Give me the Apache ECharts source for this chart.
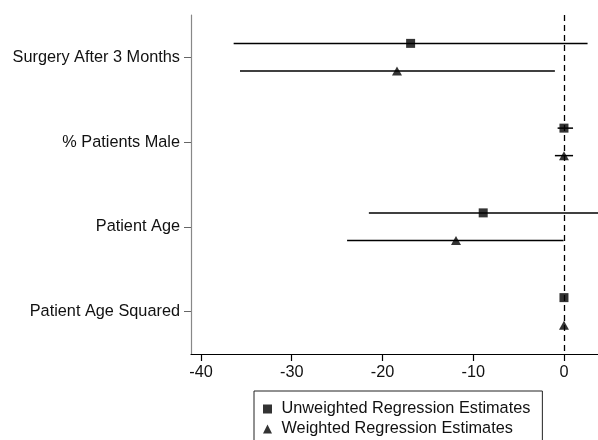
<!DOCTYPE html>
<html>
<head>
<meta charset="utf-8">
<script src="https://cdn.jsdelivr.net/npm/echarts@6/dist/echarts.min.js"></script>
<style>html,body{margin:0;padding:0;background:#fff;}#c{width:598px;height:440px;}</style>
</head>
<body>
<div id="c"></div>
<script>
const categories = ['Surgery After 3 Months', '% Patients Male', 'Patient Age', 'Patient Age Squared'];
const unweightedEst = [-16.9, 0.0, -8.9, 0.0];
const unweightedLo = [-36.4, -0.7, -21.5, 0.0];
const unweightedHi = [2.6, 1.0, 5.0, 0.0];
const weightedEst = [-18.4, 0.0, -11.9, 0.0];
const weightedLo = [-35.7, -1.0, -23.9, 0.0];
const weightedHi = [-1.0, 1.0, -0.05, 0.0];
const xTicks = [-40, -30, -20, -10, 0];

const FONT = '"Liberation Sans", Arial, sans-serif';
const FS = 16.3;
const chart = echarts.init(document.getElementById('c'));

function ciSeries(lo, hi, offset, name) {
  return {
    type: 'custom',
    name: name,
    z: 1,
    silent: true,
    encode: { x: [0, 1], y: 2 },
    data: lo.map((l, i) => [l, hi[i], i]),
    renderItem: function (params, api) {
      const p1 = api.coord([api.value(0), api.value(2)]);
      const p2 = api.coord([api.value(1), api.value(2)]);
      return {
        type: 'line',
        shape: { x1: p1[0], y1: p1[1] + offset, x2: p2[0], y2: p2[1] + offset },
        style: { stroke: '#000', lineWidth: 1.5 }
      };
    }
  };
}

const option = {
  animation: false,
  backgroundColor: '#fff',
  textStyle: { fontFamily: FONT },
  grid: { left: 191, top: 15, bottom: 86, right: 0, containLabel: false },
  xAxis: {
    type: 'value',
    min: -41.1,
    max: 3.75,
    splitLine: { show: false },
    axisLine: { show: true, onZero: false, lineStyle: { color: '#000', width: 1.2 } },
    axisTick: { show: true, length: 7, customValues: xTicks, lineStyle: { color: '#000', width: 1.2 } },
    axisLabel: { customValues: xTicks, fontSize: FS, color: '#111', fontFamily: FONT, margin: 11 }
  },
  yAxis: {
    type: 'category',
    data: categories,
    inverse: true,
    boundaryGap: true,
    axisLine: { show: true, onZero: false, lineStyle: { color: '#888', width: 1.2 } },
    axisTick: { show: true, alignWithLabel: true, length: 7, lineStyle: { color: '#666', width: 1 } },
    axisLabel: { fontSize: FS, color: '#111', fontFamily: FONT, margin: 11 },
    splitLine: { show: false }
  },
  legend: {
    orient: 'vertical',
    left: 254,
    top: 391,
    height: 90,
    padding: [10, 12, 20, 9],
    itemGap: 4,
    itemWidth: 18,
    itemHeight: 9,
    borderColor: '#222',
    borderWidth: 1,
    textStyle: { fontSize: FS, color: '#111', fontFamily: FONT },
    data: [
      { name: 'Unweighted Regression Estimates', icon: 'path://M0,0 L10,0 L10,10 L0,10 Z' },
      { name: 'Weighted Regression Estimates', icon: 'path://M5,0 L10,10 L0,10 Z' }
    ]
  },
  series: [
    ciSeries(unweightedLo, unweightedHi, -14, 'ciU'),
    ciSeries(weightedLo, weightedHi, 13.5, 'ciW'),
    {
      type: 'scatter',
      name: 'Unweighted Regression Estimates',
      z: 3,
      symbol: 'rect',
      symbolSize: 9,
      symbolOffset: [0, -14],
      itemStyle: { color: '#000' },
      data: unweightedEst.map((v, i) => [v, categories[i]]),
      markLine: {
        silent: true,
        symbol: 'none',
        label: { show: false },
        lineStyle: { type: [6, 4], color: '#000', width: 1.3 },
        data: [{ xAxis: 0 }]
      }
    },
    {
      type: 'scatter',
      name: 'Weighted Regression Estimates',
      z: 3,
      symbol: 'triangle',
      symbolSize: [10, 9],
      symbolOffset: [0, 13.5],
      itemStyle: { color: '#000' },
      data: weightedEst.map((v, i) => [v, categories[i]])
    }
  ]
};
chart.setOption(option);
</script>
</body>
</html>
